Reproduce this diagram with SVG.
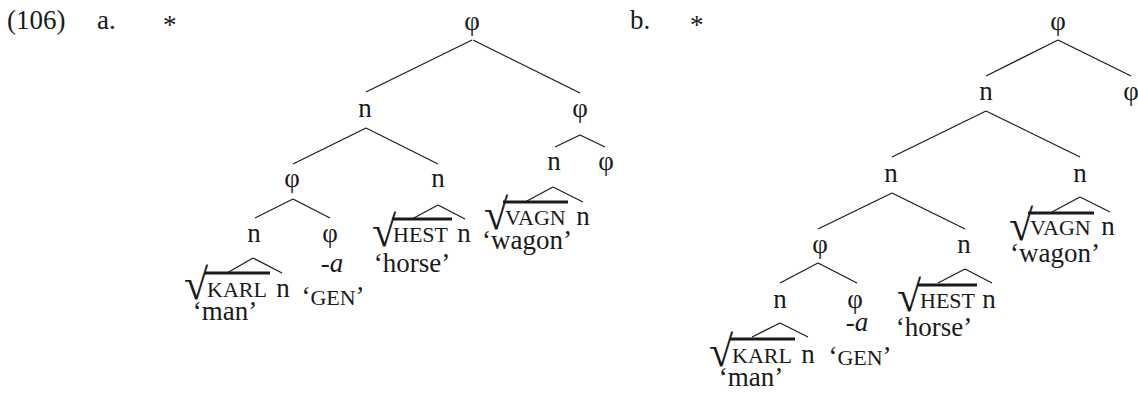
<svg xmlns="http://www.w3.org/2000/svg" width="1138" height="396" viewBox="0 0 1138 396">
<style>
text{font-family:"Liberation Serif","Times New Roman",serif;font-size:27px;fill:#1a1a1a}
.m{text-anchor:middle}
.sc{font-size:22px}
.rt{font-size:44px}
.it{font-style:italic}
line{stroke:#1a1a1a;stroke-width:1.2}
.ov{stroke-width:3}
</style>
<rect width="1138" height="396" fill="#fff"/>
<g id="labels">
<text x="7" y="29">(106)</text>
<text x="97" y="29">a.</text>
<text x="163" y="34">*</text>
<text x="630" y="29">b.</text>
<text x="690" y="34">*</text>
</g>
<g id="connectors">
<line x1="472" y1="40" x2="366" y2="92"/>
<line x1="473" y1="40" x2="580" y2="93"/>
<line x1="366" y1="128" x2="293" y2="164"/>
<line x1="366" y1="128" x2="438" y2="164"/>
<line x1="580" y1="135" x2="555" y2="147"/>
<line x1="580" y1="135" x2="605" y2="147"/>
<line x1="293" y1="199" x2="255" y2="218"/>
<line x1="293" y1="199" x2="330" y2="218"/>
<line x1="438" y1="205" x2="412" y2="219"/>
<line x1="438" y1="205" x2="465" y2="219"/>
<line x1="553" y1="187" x2="525" y2="202"/>
<line x1="553" y1="187" x2="583" y2="202"/>
<line x1="253" y1="258" x2="227" y2="273"/>
<line x1="253" y1="258" x2="282" y2="273"/>
<line x1="1058" y1="40" x2="986" y2="76"/>
<line x1="1058" y1="40" x2="1131" y2="76"/>
<line x1="986" y1="111" x2="892" y2="157"/>
<line x1="986" y1="111" x2="1080" y2="157"/>
<line x1="892" y1="193" x2="818" y2="229"/>
<line x1="892" y1="193" x2="965" y2="229"/>
<line x1="1080" y1="197" x2="1052" y2="212"/>
<line x1="1080" y1="197" x2="1110" y2="212"/>
<line x1="818" y1="263" x2="780" y2="283"/>
<line x1="818" y1="263" x2="857" y2="283"/>
<line x1="965" y1="269" x2="938" y2="283"/>
<line x1="965" y1="269" x2="992" y2="283"/>
<line x1="780" y1="323" x2="752" y2="337"/>
<line x1="780" y1="323" x2="808" y2="337"/>
</g>
<g id="a-root"><text class="m" x="472" y="30">φ</text></g>
<g id="a-n1"><text class="m" x="365" y="117">n</text></g>
<g id="a-phi1"><text class="m" x="580" y="117">φ</text></g>
<g id="a-phi2"><text class="m" x="292" y="187">φ</text></g>
<g id="a-n2"><text class="m" x="438" y="187">n</text></g>
<g id="a-n3"><text class="m" x="554" y="170">n</text></g>
<g id="a-phi3"><text class="m" x="606" y="170">φ</text></g>
<g id="a-n4"><text class="m" x="254" y="242">n</text></g>
<g id="a-phi4"><text class="m" x="330" y="242">φ</text></g>
<g id="a-karl">
<text class="rt" x="184" y="299">√</text>
<line class="ov" x1="205" y1="273" x2="270" y2="273"/>
<text class="sc" x="207" y="297">KARL</text>
<text class="m" x="283" y="297">n</text>
<text class="m" x="225" y="320">‘man’</text>
</g>
<g id="a-gen">
<text class="m" x="332" y="272">-<tspan class="it">a</tspan></text>
<text class="m" x="333" y="305">‘<tspan class="sc">GEN</tspan>’</text>
</g>
<g id="a-hest">
<text class="rt" x="372" y="246">√</text>
<line class="ov" x1="392" y1="219" x2="452" y2="219"/>
<text class="sc" x="393" y="242">HEST</text>
<text class="m" x="464" y="242">n</text>
<text class="m" x="412" y="272">‘horse’</text>
</g>
<g id="a-vagn">
<text class="rt" x="484" y="229">√</text>
<line class="ov" x1="503" y1="202" x2="568" y2="202"/>
<text class="sc" x="505" y="225">VAGN</text>
<text class="m" x="583" y="225">n</text>
<text class="m" x="527" y="249">‘wagon’</text>
</g>
<g id="b-root"><text class="m" x="1058" y="30">φ</text></g>
<g id="b-n1"><text class="m" x="986" y="100">n</text></g>
<g id="b-phi1"><text class="m" x="1131" y="100">φ</text></g>
<g id="b-n2"><text class="m" x="891" y="182">n</text></g>
<g id="b-n3"><text class="m" x="1080" y="182">n</text></g>
<g id="b-phi2"><text class="m" x="820" y="253">φ</text></g>
<g id="b-n4"><text class="m" x="964" y="253">n</text></g>
<g id="b-n5"><text class="m" x="780" y="308">n</text></g>
<g id="b-phi3"><text class="m" x="855" y="308">φ</text></g>
<g id="b-vagn">
<text class="rt" x="1009" y="240">√</text>
<line class="ov" x1="1028" y1="213" x2="1094" y2="213"/>
<text class="sc" x="1030" y="235">VAGN</text>
<text class="m" x="1108" y="235">n</text>
<text class="m" x="1055" y="262">‘wagon’</text>
</g>
<g id="b-hest">
<text class="rt" x="897" y="311">√</text>
<line class="ov" x1="918" y1="285" x2="977" y2="285"/>
<text class="sc" x="920" y="308">HEST</text>
<text class="m" x="989" y="308">n</text>
<text class="m" x="934" y="336">‘horse’</text>
</g>
<g id="b-karl">
<text class="rt" x="709" y="366">√</text>
<line class="ov" x1="730" y1="339" x2="795" y2="339"/>
<text class="sc" x="732" y="363">KARL</text>
<text class="m" x="808" y="363">n</text>
<text class="m" x="751" y="386">‘man’</text>
</g>
<g id="b-gen">
<text class="m" x="857" y="331">-<tspan class="it">a</tspan></text>
<text class="m" x="860" y="365">‘<tspan class="sc">GEN</tspan>’</text>
</g>
</svg>
